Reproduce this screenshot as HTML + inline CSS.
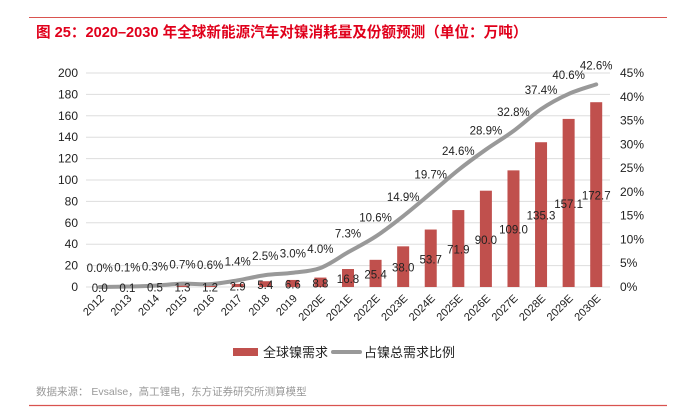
<!DOCTYPE html>
<html><head><meta charset="utf-8"><style>
body{margin:0;width:673px;height:415px;background:#fff;overflow:hidden;font-family:"Liberation Sans","Noto Sans CJK SC",sans-serif}
</style></head><body>
<svg width="673" height="415" style="position:absolute;left:0;top:0">
<line x1="29" y1="17.5" x2="667" y2="17.5" stroke="#d9534f" stroke-width="1"/>
<text x="36" y="37" font-size="14.6" font-weight="bold" fill="#e0001b">图 25：2020–2030 年全球新能源汽车对镍消耗量及份额预测（单位：万吨）</text>
<g id="grid"></g><g id="bars"></g><g id="line"></g><g id="labels"></g>
<g>
<rect x="233" y="348" width="25" height="8" fill="#c0504d"/>
<text x="263" y="357" font-size="13" fill="#222">全球镍需求</text>
<line x1="333" y1="352" x2="360" y2="352" stroke="#999" stroke-width="4" stroke-linecap="round"/>
<text x="364" y="357" font-size="13" fill="#222">占镍总需求比例</text>
</g>
<text x="36" y="395" font-size="10.5" fill="#999">数据来源：  Evsalse，高工锂电，东方证券研究所测算模型</text>
<line x1="29" y1="405.5" x2="667" y2="405.5" stroke="#d9534f" stroke-width="1.2"/>
</svg>
<script>
const categories=["2012","2013","2014","2015","2016","2017","2018","2019","2020E","2021E","2022E","2023E","2024E","2025E","2026E","2027E","2028E","2029E","2030E"];
const demand=[0.0,0.1,0.5,1.3,1.2,2.9,5.4,6.6,8.8,16.8,25.4,38.0,53.7,71.9,90.0,109.0,135.3,157.1,172.7];
const share=[0.0,0.1,0.3,0.7,0.6,1.4,2.5,3.0,4.0,7.3,10.6,14.9,19.7,24.6,28.9,32.8,37.4,40.6,42.6];
const leftTicks=[0,20,40,60,80,100,120,140,160,180,200];
const rightTicks=[0,5,10,15,20,25,30,35,40,45];
const NS="http://www.w3.org/2000/svg";
const x0=86,x1=610,yB=287,yT=73;
const step=(x1-x0)/categories.length;
const xc=i=>x0+step*(i+0.5);
const yL=v=>yB-(v/200)*(yB-yT);
const yR=v=>yB-(v/45)*(yB-yT);
function mk(t,a,p){const e=document.createElementNS(NS,t);for(const k in a)e.setAttribute(k,a[k]);p.appendChild(e);return e;}
const grid=document.getElementById('grid'),bars=document.getElementById('bars'),line=document.getElementById('line'),labels=document.getElementById('labels');
leftTicks.forEach(v=>{
  const l=mk('line',{x1:x0,x2:x1,y1:yL(v),y2:yL(v),stroke:'#ddd','stroke-width':1},grid);
  
  
  const t=mk('text',{x:78,y:yL(v)+4,'font-size':12,'text-anchor':'end',fill:'#222'},grid);
  t.textContent=v;
  
  
});
rightTicks.forEach(v=>{
  const t=mk('text',{x:620,y:yR(v)+4,'font-size':12,fill:'#222'},grid);
  t.textContent=v+'%';
  
  
});
categories.forEach((c,i)=>{
  const v=demand[i];
  const r=mk('rect',{x:xc(i)-6,y:yL(v),width:12,height:yB-yL(v),fill:'#c0504d'},bars);
  
  
  const t=mk('text',{x:xc(i),y:(yL(v)+yB)/2+5,'font-size':11.5,'text-anchor':'middle',fill:'#222'},labels);
  t.textContent=v.toFixed(1);
  
  
  const p=mk('text',{x:xc(i),y:yR(share[i])-15,'font-size':11.5,'text-anchor':'middle',fill:'#222'},labels);
  p.textContent=share[i].toFixed(1)+'%';
  
  
  const xl=mk('text',{transform:`translate(${xc(i)+5},${yB+12}) rotate(-45)`,'font-size':11,'text-anchor':'end',fill:'#222'},labels);
  xl.textContent=c;
  
  
});
const pts=share.map((v,i)=>[xc(i),yR(v)]);
let d=`M${pts[0][0]},${pts[0][1]}`;
for(let i=1;i<pts.length;i++){
  const p0=pts[Math.max(i-2,0)],p1=pts[i-1],p2=pts[i],p3=pts[Math.min(i+1,pts.length-1)];
  const c1=[p1[0]+(p2[0]-p0[0])/6,p1[1]+(p2[1]-p0[1])/6];
  const c2=[p2[0]-(p3[0]-p1[0])/6,p2[1]-(p3[1]-p1[1])/6];
  d+=` C${c1[0]},${c1[1]} ${c2[0]},${c2[1]} ${p2[0]},${p2[1]}`;
}
const pl=mk('path',{d:d,fill:'none',stroke:'#999','stroke-width':4,'stroke-linecap':'round'},line);


</script>
</body></html>
